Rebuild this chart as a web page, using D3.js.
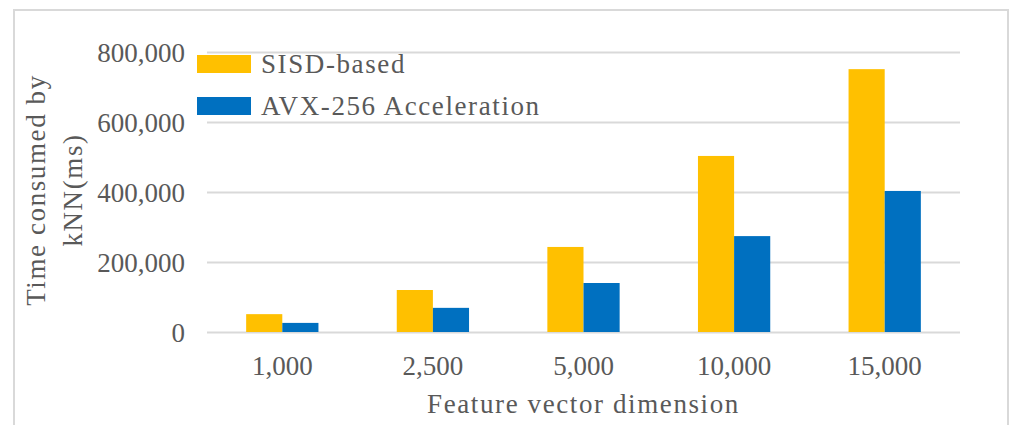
<!DOCTYPE html>
<html>
<head>
<meta charset="utf-8">
<script src="https://cdn.jsdelivr.net/npm/d3@7.9.0/dist/d3.min.js"></script>
<style>
  body { margin: 0; background: #fff; }
  svg text { font-family: "Liberation Serif", "Times New Roman", serif; fill: #595959; }
  svg text.words { letter-spacing: 1.6px; }
</style>
</head>
<body>
<div id="chart"></div>
<script>
  const categories = ['1,000', '2,500', '5,000', '10,000', '15,000'];
  const seriesNames = ['SISD-based', 'AVX-256 Acceleration'];
  const sisdValues = [51000, 120000, 243000, 503000, 751000];
  const avxValues = [26000, 69000, 140000, 274000, 403000];
  const yTicks = [0, 200000, 400000, 600000, 800000];
  const colors = ['#FFC000', '#0070C0'];

  const width = 1011;
  const height = 425;
  const margin = { top: 52, right: 51, bottom: 93, left: 207 };

  const svg = d3.select('#chart')
    .append('svg')
    .attr('width', width)
    .attr('height', height);

  // light frame round the chart area
  svg.append('rect')
    .attr('x', 14).attr('y', 10)
    .attr('width', 994).attr('height', 430)
    .attr('fill', 'none')
    .attr('stroke', '#d9d9d9')
    .attr('stroke-width', 2);

  const usable = {
    left: margin.left,
    right: width - margin.right,
    top: margin.top,
    bottom: height - margin.bottom,
  };

  const rows = categories.map((c, i) => ({ cat: c, values: [sisdValues[i], avxValues[i]] }));

  const x = d3.scaleBand()
    .domain(categories)
    .range([usable.left, usable.right])
    .paddingInner(0.52)
    .paddingOuter(0.26);

  const xSub = d3.scaleBand()
    .domain(d3.range(seriesNames.length))
    .range([0, x.bandwidth()]);

  const y = d3.scaleLinear()
    .domain([0, 800000])
    .range([usable.bottom, usable.top]);

  // gridlines
  const grid = svg.append('g')
    .attr('transform', `translate(${usable.left},0)`)
    .call(d3.axisLeft(y).tickValues(yTicks).tickFormat('').tickSize(-(usable.right - usable.left)));
  grid.select('.domain').remove();
  grid.selectAll('line').attr('stroke', '#d9d9d9').attr('stroke-width', 2);

  // y tick labels
  const yAxis = svg.append('g')
    .attr('transform', `translate(${usable.left},0)`)
    .call(d3.axisLeft(y).tickValues(yTicks).tickFormat(d3.format(',')).tickSize(0).tickPadding(22));
  yAxis.select('.domain').remove();
  yAxis.selectAll('text')
    .style('font-size', '27px')
    .attr('dy', '0.35em');

  // bars
  svg.append('g')
    .selectAll('g')
    .data(rows)
    .join('g')
    .attr('transform', (d) => `translate(${x(d.cat)},0)`)
    .selectAll('rect')
    .data((d) => d.values.map((v, i) => ({ v, i })))
    .join('rect')
    .attr('x', (d) => xSub(d.i))
    .attr('width', xSub.bandwidth())
    .attr('y', (d) => y(d.v))
    .attr('height', (d) => y(0) - y(d.v))
    .attr('fill', (d) => colors[d.i]);

  // x tick labels
  const xAxis = svg.append('g')
    .attr('transform', `translate(0,${usable.bottom})`)
    .call(d3.axisBottom(x).tickSize(0).tickPadding(24));
  xAxis.select('.domain').remove();
  xAxis.selectAll('text').style('font-size', '27px');

  // axis titles
  svg.append('text')
    .attr('class', 'words')
    .attr('x', (usable.left + usable.right) / 2)
    .attr('y', 413)
    .attr('text-anchor', 'middle')
    .style('font-size', '27px')
    .text('Feature vector dimension');

  const yTitle = svg.append('text')
    .attr('class', 'words')
    .attr('transform', `translate(0,190) rotate(-90)`)
    .attr('text-anchor', 'middle')
    .style('font-size', '27px');
  yTitle.append('tspan').attr('x', 0).attr('y', 45).text('Time consumed by');
  yTitle.append('tspan').attr('x', 0).attr('y', 82).text('kNN(ms)');

  // legend
  const legend = svg.append('g')
    .selectAll('g')
    .data(seriesNames)
    .join('g')
    .attr('transform', (d, i) => `translate(197,${55 + i * 42})`);
  legend.append('rect')
    .attr('width', 54).attr('height', 18)
    .attr('fill', (d, i) => colors[i]);
  legend.append('text')
    .attr('class', 'words')
    .attr('x', 64).attr('y', 18)
    .style('font-size', '27px')
    .text((d) => d);
</script>
</body>
</html>
